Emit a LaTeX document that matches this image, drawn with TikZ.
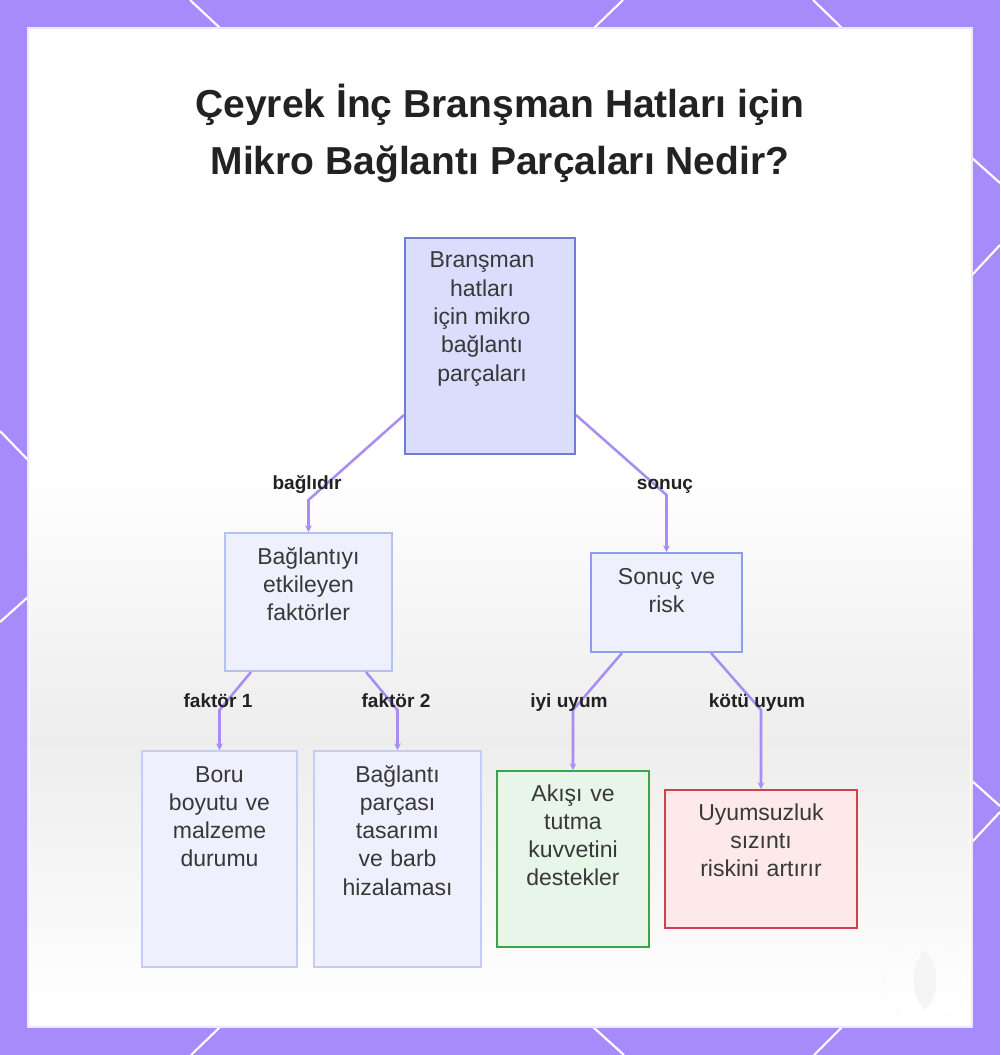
\documentclass[tikz,border=0pt]{standalone}
\usepackage{fontspec}
\setmainfont{Liberation Sans}
\usetikzlibrary{arrows.meta,calc}
\definecolor{frame}{HTML}{A78BFA}
\definecolor{edgec}{HTML}{A88EF2}
\definecolor{ink}{HTML}{222222}
\definecolor{rootfill}{HTML}{DADDFC}
\definecolor{rootline}{HTML}{6F7BD4}
\definecolor{lightfill}{HTML}{EEF0FE}
\definecolor{facline}{HTML}{B5C0F3}
\definecolor{sonline}{HTML}{8C9DF0}
\definecolor{leafline}{HTML}{C5CDF5}
\definecolor{greenfill}{HTML}{E8F5E9}
\definecolor{greenline}{HTML}{3DA34A}
\definecolor{redfill}{HTML}{FDE8EA}
\definecolor{redline}{HTML}{D0404E}
\tikzset{
  boxnode/.style={draw, line width=1.5pt, inner sep=0pt, anchor=north,
    align=center, text=ink!90, font=\fontsize{17.25pt}{21.2pt}\selectfont},
  edge/.style={draw=edgec, line width=1.9pt, -{Stealth[length=5pt,width=5pt]}},
  elabel/.style={anchor=base, text=ink, inner sep=0pt, font=\bfseries\fontsize{14.3pt}{17pt}\selectfont},
  border/.style={white, line width=1.6pt}
}
\begin{document}
\begin{tikzpicture}[x=0.75pt,y=-0.75pt]
\useasboundingbox (0,0) rectangle (1000,1055);
\fill[frame] (0,0) rectangle (1000,1055);
% white corner lines
\draw[border] (190,0) -- (220,28);
\draw[border] (623,0) -- (594,28);
\draw[border] (813,0) -- (842,28);
\draw[border] (220,1027) -- (191,1055);
\draw[border] (593,1027) -- (624,1055);
\draw[border] (842,1027) -- (814,1055);
\draw[border] (0,431) -- (28,460);
\draw[border] (28,597) -- (0,622);
\draw[border] (972,158) -- (1000,183);
\draw[border] (972,275) -- (1000,245);
\draw[border] (972,781) -- (1000,806);
\draw[border] (972,842) -- (1000,812);
% inner panel
\fill[white] (28,28) rectangle (972,1027);
\shade[top color=white, bottom color=white, middle color=black!7] (30,470) rectangle (970,1010);
\draw[white!80!frame, line width=0.8pt] (28,28) rectangle (972,1027);
% faint watermark
\draw[black!6, line width=0.6pt, dotted] (925,980) circle (42);
\fill[black!4] (925,950) .. controls (940,965) and (940,995) .. (925,1010) .. controls (910,995) and (910,965) .. (925,950);
% title
\node[anchor=base, text=ink, font=\bfseries\fontsize{29.25pt}{35pt}\selectfont] (t1) at (500,118) {Çeyrek İnç Branşman Hatları için};
\node[anchor=base, text=ink, font=\bfseries\fontsize{29.25pt}{35pt}\selectfont] (t2) at (500,175) {Mikro Bağlantı Parçaları Nedir?};
% boxes
\node[boxnode, fill=rootfill, draw=rootline, text height=22.5pt, text depth=139.5pt] (root) at (490,237)
  {\parbox[t]{115.5pt}{\centering Branşman\\hatları\\için mikro\\bağlantı\\parçaları}\hspace*{12pt}};
\node[boxnode, fill=lightfill, draw=facline, text width=125.25pt, text height=23.25pt, text depth=80.25pt] (fac) at (308.5,532)
  {Bağlantıyı\\etkileyen\\faktörler};
\node[boxnode, fill=lightfill, draw=sonline, text width=113.25pt, text height=23.25pt, text depth=51pt] (son) at (666.5,552)
  {Sonuç ve\\risk};
\node[boxnode, fill=lightfill, draw=leafline, text width=116.25pt, text height=23.25pt, text depth=138.75pt] (boru) at (219.5,750)
  {Boru\\boyutu ve\\malzeme\\durumu};
\node[boxnode, fill=lightfill, draw=leafline, text width=125.25pt, text height=23.25pt, text depth=138.75pt] (parca) at (397.5,750)
  {Bağlantı\\parçası\\tasarımı\\ve barb\\hizalaması};
\node[boxnode, fill=greenfill, draw=greenline, text width=114pt, text height=22.5pt, text depth=109.5pt] (akis) at (573,770)
  {Akışı ve\\tutma\\kuvvetini\\destekler};
\node[boxnode, fill=redfill, draw=redline, text width=144pt, text height=22.5pt, text depth=81pt] (uyum) at (761,789)
  {Uyumsuzluk\\sızıntı\\riskini artırır};
% edges
\draw[edge] ($(root.south west)+(0,-40)$) -- ($(fac.north)+(0,-32)$) -- (fac.north);
\draw[edge] ($(root.south east)+(0,-40)$) -- ($(son.north)+(0,-57)$) -- (son.north);
\draw[edge] ($(fac.south west)+(27,0)$) -- ($(boru.north)+(0,-40)$) -- (boru.north);
\draw[edge] ($(fac.south east)+(-27,0)$) -- ($(parca.north)+(0,-40)$) -- (parca.north);
\draw[edge] ($(son.south west)+(32,0)$) -- ($(akis.north)+(0,-60)$) -- (akis.north);
\draw[edge] ($(son.south east)+(-32,0)$) -- ($(uyum.north)+(0,-79)$) -- (uyum.north);
% edge labels
\node[elabel] (l1) at (307,489) {bağlıdır};
\node[elabel] (l2) at (665,489) {sonuç};
\node[elabel] (l3) at (218,707) {faktör 1};
\node[elabel] (l4) at (396,707) {faktör 2};
\node[elabel] (l5) at (569,707) {iyi uyum};
\node[elabel] (l6) at (757,707) {kötü uyum};
\end{tikzpicture}
\end{document}
